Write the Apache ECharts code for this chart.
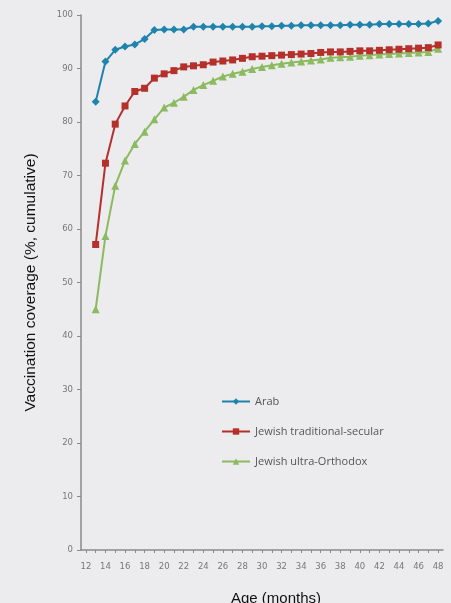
<!DOCTYPE html>
<html><head><meta charset="utf-8">
<script src="https://cdn.jsdelivr.net/npm/echarts@6/dist/echarts.min.js"></script>
<style>html,body{margin:0;padding:0;background:#ececee;}#c{width:451px;height:603px;}</style>
</head><body><div id="c"></div>
<script>
var ages = ['12','13','14','15','16','17','18','19','20','21','22','23','24','25','26','27','28','29','30','31','32','33','34','35','36','37','38','39','40','41','42','43','44','45','46','47','48'];
var arab = [null,83.8,91.3,93.5,94.1,94.5,95.5,97.2,97.3,97.3,97.3,97.8,97.8,97.8,97.8,97.8,97.8,97.8,97.9,97.9,98.0,98.0,98.1,98.1,98.1,98.1,98.1,98.2,98.2,98.2,98.3,98.3,98.3,98.3,98.3,98.4,98.9];
var secular = [null,57.1,72.3,79.6,83.0,85.7,86.3,88.2,89.0,89.6,90.3,90.5,90.7,91.2,91.4,91.6,91.9,92.2,92.3,92.4,92.5,92.6,92.7,92.8,93.0,93.1,93.1,93.2,93.3,93.3,93.4,93.5,93.6,93.7,93.8,93.9,94.4];
var orthodox = [null,45.0,58.7,68.1,72.8,75.9,78.2,80.5,82.7,83.6,84.7,86.0,86.9,87.7,88.5,89.0,89.4,89.9,90.3,90.6,90.9,91.1,91.3,91.5,91.7,92.0,92.1,92.2,92.4,92.5,92.6,92.7,92.8,92.9,93.0,93.1,93.7];
var seriesNames = ['Arab','Jewish traditional-secular','Jewish ultra-Orthodox'];
var yTicks = [0,10,20,30,40,50,60,70,80,90,100];

var chart = echarts.init(document.getElementById('c'), null, {renderer:'canvas'});
var cols = ['#1e84ad','#b5302b','#8cba60'];
var syms = ['diamond','rect','triangle'];
var datas = [arab, secular, orthodox];
var series = datas.map(function(d,i){
  return {name: seriesNames[i], type:'line', data:d, symbol:syms[i], symbolSize: i===0?8:(i===1?7:8),
    showAllSymbol:true, connectNulls:false,
    lineStyle:{color:cols[i], width:2}, itemStyle:{color:cols[i]}, z: 3-i};
});
chart.setOption({
  backgroundColor:'#ececee',
  animation:false,
  grid:{left:81, right:8, top:15, bottom:53, outerBoundsMode:'none', containLabel:false},
  legend:{orient:'vertical', left:216, top:391, itemWidth:28, itemHeight:8, itemGap:19,
    textStyle:{fontFamily:'Open Sans', fontSize:11, color:'#555'}, data:seriesNames},
  xAxis:{type:'category', data:ages, boundaryGap:true,
    name:'Age (months)', nameLocation:'middle', nameGap:41,
    nameTextStyle:{fontFamily:'Liberation Sans', fontSize:15, color:'#111', padding:[0,0,0,28]},
    axisLine:{lineStyle:{color:'#8a8a8a', width:1.5}},
    axisTick:{show:true, interval:0, alignWithLabel:true, length:3, lineStyle:{color:'#8a8a8a'}},
    axisLabel:{interval:1, fontFamily:'DejaVu Sans', fontSize:8.5, color:'#777', margin:12}},
  yAxis:{type:'value', min:0, max:100, interval:10,
    name:'Vaccination coverage (%, cumulative)', nameLocation:'middle', nameGap:42, nameRotate:90,
    nameTextStyle:{fontFamily:'Liberation Sans', fontSize:15.5, color:'#111'},
    axisLine:{show:true, lineStyle:{color:'#8a8a8a', width:1.5}},
    axisTick:{show:true, length:4, lineStyle:{color:'#8a8a8a'}},
    splitLine:{show:false},
    axisLabel:{fontFamily:'DejaVu Sans', fontSize:8.5, color:'#777', margin:8,
      formatter:function(v){return yTicks.indexOf(v)>=0?String(v):'';}}},
  series: series
});
</script></body></html>
